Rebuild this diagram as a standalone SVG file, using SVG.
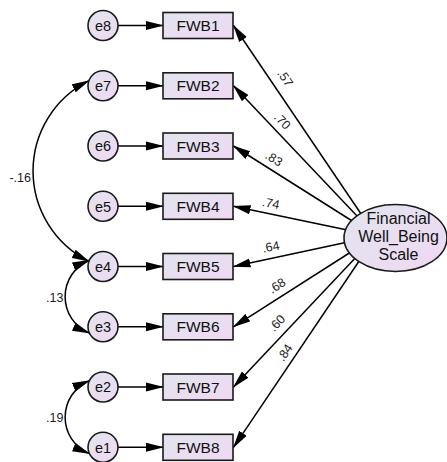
<svg xmlns="http://www.w3.org/2000/svg" width="447" height="462" viewBox="0 0 447 462">
  <defs>
    <linearGradient id="fillGrad" x1="0" y1="0" x2="1" y2="1">
      <stop offset="0" stop-color="#e1e5ee"/>
      <stop offset="1" stop-color="#f0d8f3"/>
    </linearGradient>
    <marker id="arrow" viewBox="0 0 18 10" refX="17" refY="5" markerWidth="18" markerHeight="10" markerUnits="userSpaceOnUse" orient="auto-start-reverse">
      <path d="M0,0.5 L18,5 L0,9.5 z" fill="#000"/>
    </marker>
    <style>
      .node { fill: url(#fillGrad); stroke: #1a1a1a; stroke-width: 1.6; }
      .conn { fill: none; stroke: #000; stroke-width: 1.5; marker-end: url(#arrow); }
      .cov { fill: none; stroke: #000; stroke-width: 1.5; marker-start: url(#arrow); marker-end: url(#arrow); }
      .lbl { font-family: "Liberation Sans", Arial, sans-serif; font-size: 15.5px; fill: #111; text-anchor: middle; }
      .big { font-size: 16px; }
      .err { font-family: "Liberation Sans", Arial, sans-serif; font-size: 14.5px; fill: #111; text-anchor: middle; }
      .coef { font-family: "Liberation Sans", Arial, sans-serif; font-size: 12.5px; fill: #222; text-anchor: middle; }
      .covlbl { font-family: "Liberation Sans", Arial, sans-serif; font-size: 12.5px; fill: #222; text-anchor: end; }
    </style>
  </defs>

  <g id="connectors">
    <!-- error terms to indicators -->
    <line class="conn" x1="118" y1="25.5" x2="163" y2="25.5"/>
    <line class="conn" x1="118" y1="85.8" x2="163" y2="85.8"/>
    <line class="conn" x1="118" y1="146" x2="163" y2="146"/>
    <line class="conn" x1="118" y1="206.3" x2="163" y2="206.3"/>
    <line class="conn" x1="118" y1="266.5" x2="163" y2="266.5"/>
    <line class="conn" x1="118" y1="326.8" x2="163" y2="326.8"/>
    <line class="conn" x1="118" y1="387" x2="163" y2="387"/>
    <line class="conn" x1="118" y1="447.3" x2="163" y2="447.3"/>

    <!-- factor loadings -->
    <line class="conn" x1="376" y1="236" x2="233.5" y2="25.5"/>
    <line class="conn" x1="376" y1="236" x2="233.5" y2="85.8"/>
    <line class="conn" x1="376" y1="236" x2="233.5" y2="146"/>
    <line class="conn" x1="376" y1="236" x2="233.5" y2="206.3"/>
    <line class="conn" x1="376" y1="236" x2="233.5" y2="266.5"/>
    <line class="conn" x1="376" y1="236" x2="233.5" y2="326.8"/>
    <line class="conn" x1="376" y1="236" x2="233.5" y2="387"/>
    <line class="conn" x1="376" y1="236" x2="233.5" y2="447.3"/>

    <!-- error covariances -->
    <path class="cov" d="M88.9,80.7 A101,101 0 0 0 88.9,261.4"/>
    <path class="cov" d="M89.4,260.2 A39.5,39.5 0 0 0 89.4,333.1"/>
    <path class="cov" d="M89.4,380.7 A39.5,39.5 0 0 0 89.4,453.6"/>

    <!-- coefficient labels -->
    <text class="coef" transform="translate(281.7,80.5) rotate(55.8)">.57</text>
    <text class="coef" transform="translate(279.3,124) rotate(46.4)">.70</text>
    <text class="coef" transform="translate(271.7,162.3) rotate(32.2)">.83</text>
    <text class="coef" transform="translate(270,207.5) rotate(11.7)">.74</text>
    <text class="coef" transform="translate(271.7,251) rotate(-12)">.64</text>
    <text class="coef" transform="translate(279.3,289.3) rotate(-32.4)">.68</text>
    <text class="coef" transform="translate(280,326) rotate(-46.6)">.60</text>
    <text class="coef" transform="translate(288.3,355) rotate(-55.9)">.84</text>

    <text class="covlbl" x="31" y="181.5">-.16</text>
    <text class="covlbl" x="63.5" y="301.5">.13</text>
    <text class="covlbl" x="63.5" y="421.5">.19</text>
  </g>

  <g id="e8"><circle class="node" cx="103" cy="25.5" r="15"/><text class="err" x="103" y="30.7">e8</text></g>
  <g id="e7"><circle class="node" cx="103" cy="85.8" r="15"/><text class="err" x="103" y="91">e7</text></g>
  <g id="e6"><circle class="node" cx="103" cy="146" r="15"/><text class="err" x="103" y="151.2">e6</text></g>
  <g id="e5"><circle class="node" cx="103" cy="206.3" r="15"/><text class="err" x="103" y="211.5">e5</text></g>
  <g id="e4"><circle class="node" cx="103" cy="266.5" r="15"/><text class="err" x="103" y="271.7">e4</text></g>
  <g id="e3"><circle class="node" cx="103" cy="326.8" r="15"/><text class="err" x="103" y="332">e3</text></g>
  <g id="e2"><circle class="node" cx="103" cy="387" r="15"/><text class="err" x="103" y="392.2">e2</text></g>
  <g id="e1"><circle class="node" cx="103" cy="447.3" r="15"/><text class="err" x="103" y="452.5">e1</text></g>

  <g id="FWB1"><rect class="node" x="163" y="12.5" width="70" height="26"/><text class="lbl" x="198" y="31">FWB1</text></g>
  <g id="FWB2"><rect class="node" x="163" y="72.8" width="70" height="26"/><text class="lbl" x="198" y="91.3">FWB2</text></g>
  <g id="FWB3"><rect class="node" x="163" y="133" width="70" height="26"/><text class="lbl" x="198" y="151.5">FWB3</text></g>
  <g id="FWB4"><rect class="node" x="163" y="193.3" width="70" height="26"/><text class="lbl" x="198" y="211.8">FWB4</text></g>
  <g id="FWB5"><rect class="node" x="163" y="253.5" width="70" height="26"/><text class="lbl" x="198" y="272">FWB5</text></g>
  <g id="FWB6"><rect class="node" x="163" y="313.8" width="70" height="26"/><text class="lbl" x="198" y="332.3">FWB6</text></g>
  <g id="FWB7"><rect class="node" x="163" y="374" width="70" height="26"/><text class="lbl" x="198" y="392.5">FWB7</text></g>
  <g id="FWB8"><rect class="node" x="163" y="434.3" width="70" height="26"/><text class="lbl" x="198" y="452.8">FWB8</text></g>

  <g id="FinancialWellBeingScale">
    <ellipse class="node" cx="395.5" cy="238" rx="51.5" ry="33.5"/>
    <text class="lbl big" x="398.5" y="224">Financial</text>
    <text class="lbl big" x="398.5" y="242">Well_Being</text>
    <text class="lbl big" x="398.5" y="260">Scale</text>
  </g>
</svg>
